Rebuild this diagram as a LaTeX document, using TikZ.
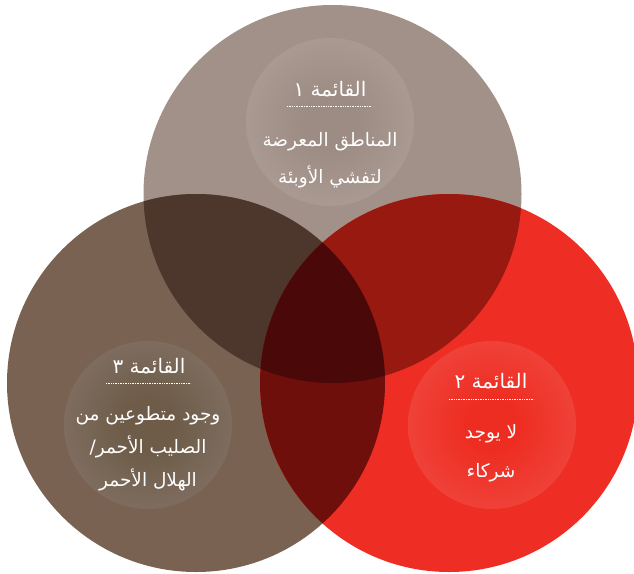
\documentclass[tikz,border=0pt]{standalone}
\usepackage{fontspec}
\newfontfamily\arabicfont[Script=Arabic]{DejaVu Sans}
\TeXXeTstate=1
\definecolor{cT}{HTML}{A19189}
\definecolor{cL}{HTML}{7A6253}
\definecolor{cR}{HTML}{EE2E24}
\definecolor{cTL}{HTML}{4D372D}
\definecolor{cTR}{HTML}{98190F}
\definecolor{cLR}{HTML}{6F0F0B}
\definecolor{cTLR}{HTML}{4A0908}
\definecolor{iTa}{HTML}{9D8C83}
\definecolor{iTb}{HTML}{B4A7A1}
\definecolor{iLa}{HTML}{6E5C49}
\definecolor{iLb}{HTML}{8E7E74}
\definecolor{iRa}{HTML}{EE2D22}
\definecolor{iRb}{HTML}{F0564F}
\pgfdeclareradialshading{glowT}{\pgfpoint{0bp}{0bp}}{color(0bp)=(iTa);color(8bp)=(iTa);color(42bp)=(iTb);color(50bp)=(iTb)}
\pgfdeclareradialshading{glowL}{\pgfpoint{0bp}{0bp}}{color(0bp)=(iLa);color(8bp)=(iLa);color(42bp)=(iLb);color(50bp)=(iLb)}
\pgfdeclareradialshading{glowR}{\pgfpoint{0bp}{0bp}}{color(0bp)=(iRa);color(8bp)=(iRa);color(42bp)=(iRb);color(50bp)=(iRb)}
\tikzset{
  atxt/.style={text=white, inner sep=0pt, anchor=base, font=\arabicfont\fontsize{18.5}{22}\selectfont},
  ttxt/.style={atxt, font=\arabicfont\fontsize{20}{24}\selectfont},
  dotline/.style={white, line width=0.6pt, dash pattern=on 0.8pt off 0.9pt},
}
\begin{document}
\begin{tikzpicture}[x=1pt,y=-1pt]
\useasboundingbox (0,0) rectangle (634,573);
\coordinate (T) at (332.5,194);
\coordinate (L) at (196,383);
\coordinate (R) at (449,383);
\def\rr{189pt}
% base circles
\fill[cT] (T) circle[radius=\rr];
\fill[cL] (L) circle[radius=\rr];
\fill[cR] (R) circle[radius=\rr];
% pairwise overlaps
\begin{scope}
  \clip (T) circle[radius=\rr];
  \fill[cTL] (L) circle[radius=\rr];
  \fill[cTR] (R) circle[radius=\rr];
\end{scope}
\begin{scope}
  \clip (L) circle[radius=\rr];
  \fill[cLR] (R) circle[radius=\rr];
\end{scope}
\begin{scope}
  \clip (T) circle[radius=\rr];
  \clip (L) circle[radius=\rr];
  \fill[cTLR] (R) circle[radius=\rr];
\end{scope}
% inner glowing discs
\coordinate (iT) at (330,122);
\coordinate (iL) at (148,425);
\coordinate (iR) at (492,425);
\shade[shading=glowT] (iT) circle[radius=84pt];
\shade[shading=glowL] (iL) circle[radius=84pt];
\shade[shading=glowR] (iR) circle[radius=84pt];
% list 1
\node[ttxt] (t1) at (330,96) {\beginR القائمة ١\endR};
\coordinate (t1a) at (287,106);
\coordinate (t1b) at (372,106);
\draw[dotline] (t1a) -- (t1b);
\node[atxt] (t1l1) at (330,146) {\beginR المناطق المعرضة\endR};
\node[atxt] (t1l2) at (330,183) {\beginR لتفشي الأوبئة\endR};
% list 3
\node[ttxt] (t3) at (149,373) {\beginR القائمة ٣\endR};
\coordinate (t3a) at (106,383);
\coordinate (t3b) at (191,383);
\draw[dotline] (t3a) -- (t3b);
\node[atxt] (t3l1) at (148,420) {\beginR وجود متطوعين من\endR};
\node[atxt] (t3l2) at (148,453) {\beginR الصليب الأحمر/\endR};
\node[atxt] (t3l3) at (148,486) {\beginR الهلال الأحمر\endR};
% list 2
\node[ttxt] (t2) at (491,388) {\beginR القائمة ٢\endR};
\coordinate (t2a) at (449,399);
\coordinate (t2b) at (534,399);
\draw[dotline] (t2a) -- (t2b);
\node[atxt] (t2l1) at (491,438) {\beginR لا يوجد\endR};
\node[atxt] (t2l2) at (491,477) {\beginR شركاء\endR};
\end{tikzpicture}
\end{document}
